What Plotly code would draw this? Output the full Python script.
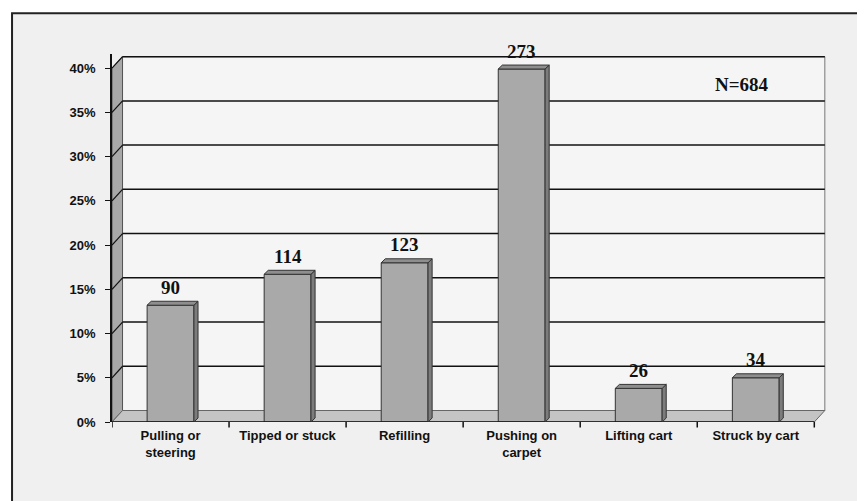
import plotly.graph_objects as go

# reported injuries by activity (N=684)
categories = ["Pulling or<br>steering", "Tipped or stuck", "Refilling",
              "Pushing on<br>carpet", "Lifting cart", "Struck by cart"]
counts = [90, 114, 123, 273, 26, 34]
percents = [13.2, 16.7, 18.0, 39.9, 3.8, 5.0]
y_ticks = [0, 5, 10, 15, 20, 25, 30, 35, 40]
y_tick_labels = ["0%", "5%", "10%", "15%", "20%", "25%", "30%", "35%", "40%"]

# fake 3d depth (data units)
wall_dx, wall_dy = 0.09, 1.3
bar_w, bar_dx, bar_dy = 0.4, 0.035, 0.45
n = len(categories)
x_lo, x_hi = -0.5, n - 0.5

shapes = []
# page frame
shapes.append(dict(type="rect", xref="paper", yref="paper", x0=-0.140, x1=1.4, y0=-0.4, y1=1.111,
                   fillcolor="#f0f0f0", line=dict(color="#222", width=2), layer="below"))
# back wall
shapes.append(dict(type="rect", xref="x", yref="y", x0=x_lo + wall_dx, x1=x_hi + wall_dx,
                   y0=wall_dy, y1=y_ticks[-1] + wall_dy, fillcolor="#f5f5f5",
                   line=dict(color="#777", width=1), layer="below"))
# left side wall
shapes.append(dict(type="path", xref="x", yref="y", layer="below",
                   path=f"M{x_lo},0 L{x_lo + wall_dx},{wall_dy} L{x_lo + wall_dx},{y_ticks[-1] + wall_dy} "
                        f"L{x_lo},{y_ticks[-1]} Z",
                   fillcolor="#a8a8a8", line=dict(color="#555", width=1)))
# floor
shapes.append(dict(type="path", xref="x", yref="y", layer="below",
                   path=f"M{x_lo},0 L{x_hi},0 L{x_hi + wall_dx},{wall_dy} L{x_lo + wall_dx},{wall_dy} Z",
                   fillcolor="#c4c4c4", line=dict(color="#666", width=1)))
# gridlines on wall
for t in y_ticks[1:]:
    shapes.append(dict(type="line", xref="x", yref="y", layer="below",
                       x0=x_lo + wall_dx, x1=x_hi + wall_dx, y0=t + wall_dy, y1=t + wall_dy,
                       line=dict(color="#111", width=1.5)))
    shapes.append(dict(type="line", xref="x", yref="y", layer="below",
                       x0=x_lo, x1=x_lo + wall_dx, y0=t, y1=t + wall_dy,
                       line=dict(color="#111", width=1.2)))
# front x axis line
shapes.append(dict(type="line", xref="x", yref="y", layer="above", x0=x_lo, x1=x_hi, y0=0, y1=0,
                   line=dict(color="#111", width=1.5)))

# bar side and top faces
for i, v in enumerate(percents):
    r = i + bar_w / 2
    l = i - bar_w / 2
    shapes.append(dict(type="path", xref="x", yref="y", layer="above",
                       path=f"M{r},0 L{r + bar_dx},{bar_dy} L{r + bar_dx},{v + bar_dy} L{r},{v} Z",
                       fillcolor="#7c7c7c", line=dict(color="#333", width=1)))
    shapes.append(dict(type="path", xref="x", yref="y", layer="above",
                       path=f"M{l},{v} L{l + bar_dx},{v + bar_dy} L{r + bar_dx},{v + bar_dy} L{r},{v} Z",
                       fillcolor="#8e8e8e", line=dict(color="#333", width=1)))

label_font = dict(family="Liberation Serif, Times New Roman", size=19, color="#111", weight="bold")
annotations = [dict(x=i, y=v + bar_dy, text=str(c), showarrow=False, yshift=14, font=label_font)
               for i, (v, c) in enumerate(zip(percents, counts))]
annotations.append(dict(x=4.88, y=38.1, text="N=684", showarrow=False, font=label_font))

fig = go.Figure(go.Bar(x=list(range(n)), y=percents, width=bar_w,
                       marker=dict(color="#a9a9a9", line=dict(color="#333", width=1)),
                       showlegend=False, hoverinfo="skip"))

axis_font = dict(family="Liberation Sans, Arial", size=13, color="#111", weight="bold")
fig.update_layout(
    width=865, height=501,
    margin=dict(l=104, r=47, t=46, b=87),
    paper_bgcolor="white", plot_bgcolor="rgba(0,0,0,0)",
    shapes=shapes, annotations=annotations,
    xaxis=dict(range=[x_lo, x_hi + 0.1], tickvals=list(range(n)), ticktext=categories,
               showgrid=False, zeroline=False, showline=False,
               ticks="", tickfont=axis_font, ticklabelstandoff=4),
    yaxis=dict(range=[0, 41.6], tickvals=y_ticks, ticktext=y_tick_labels,
               showgrid=False, zeroline=False, showline=True, linecolor="#111", linewidth=1.5,
               ticks="outside", ticklen=5, tickcolor="#111", tickfont=axis_font, ticklabelstandoff=7),
)
# category boundary ticks
for b in range(n + 1):
    fig.add_shape(type="line", xref="x", yref="paper", x0=b - 0.5, x1=b - 0.5, y0=0, y1=-0.015,
                  line=dict(color="#111", width=1.5))

fig.write_html("out.html")
